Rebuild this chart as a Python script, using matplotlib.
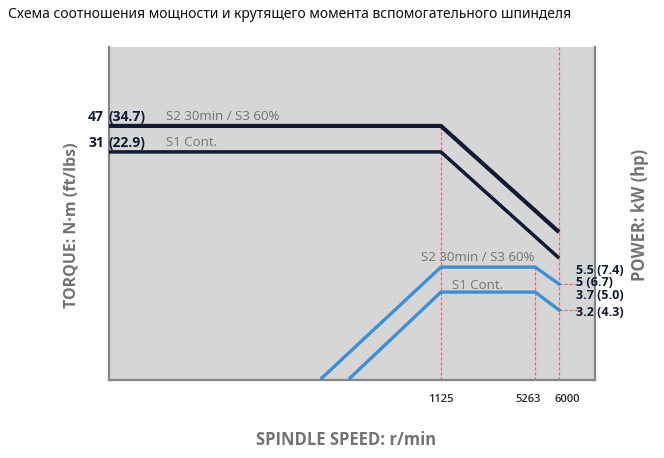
import matplotlib.pyplot as plt
import numpy as np

# schematic chart: x / y are in relative units (0..100) of the plot box
speed_marks = [1125, 5263, 6000]
speed_pos = [68.3, 87.7, 92.6]

torque_x = [0, 68.3, 92.6]
torque_s2 = [76.3, 76.3, 44.4]
torque_s1 = [68.5, 68.5, 36.6]

power_s2_x = [43.8, 68.3, 87.7, 92.6]
power_s2 = [0.6, 33.9, 33.9, 28.8]
power_s1_x = [49.6, 68.3, 87.7, 92.6]
power_s1 = [0.6, 26.4, 26.4, 21.0]

torque_labels = [("47", "(34.7)", "S2 30min / S3 60%", 79.0),
                 ("31", "(22.9)", "S1 Cont.", 71.2)]
power_labels = [("S2 30min / S3 60%", 36.9), ("S1 Cont.", 28.5)]
power_values = [("5.5 (7.4)", 33.0), ("5 (6.7)", 29.4),
                ("3.7 (5.0)", 25.5), ("3.2 (4.3)", 20.4)]

plt.rcParams['font.family'] = ['Open Sans', 'DejaVu Sans']

navy = "#101a35"
blue = "#3d8fd4"
red = "#e5677a"
gray = "#737373"

fig = plt.figure(figsize=(6.64, 4.58), dpi=100)
ax = fig.add_axes([109 / 664, 78 / 458, 486 / 664, 333 / 458])
ax.set_facecolor("#d6d6d6")
ax.set_xlim(0, 100)
ax.set_ylim(0, 100)

for s in ["left", "right", "bottom"]:
    ax.spines[s].set_color("#858585")
    ax.spines[s].set_linewidth(1.6)
ax.spines["top"].set_visible(False)

# red guide lines
dash = dict(color=red, lw=0.9, ls=(0, (2.5, 1.5)), zorder=1)
ax.plot([speed_pos[0]] * 2, [0, torque_s2[1]], **dash)
ax.plot([speed_pos[1]] * 2, [0, power_s2[2]], **dash)
ax.plot([speed_pos[2]] * 2, [0, 100], **dash)
ax.plot([speed_pos[2], 97.5], [power_s2[-1]] * 2, clip_on=False, **dash)
ax.plot([speed_pos[2], 97.5], [power_s1[-1]] * 2, clip_on=False, **dash)

ax.plot(torque_x, torque_s2, color=navy, lw=3, solid_capstyle="butt", zorder=3)
ax.plot(torque_x, torque_s1, color=navy, lw=2.5, solid_capstyle="butt", zorder=3)
ax.plot(power_s2_x, power_s2, color=blue, lw=2.4, zorder=3)
ax.plot(power_s1_x, power_s1, color=blue, lw=2.4, zorder=3)

for nm, lb, name, y in torque_labels:
    ax.text(-1.0, y, nm, ha="right", va="center", color=navy,
            fontsize=10, fontweight="bold", clip_on=False)
    ax.text(0.0, y, lb, ha="left", va="center", color=navy,
            fontsize=10, fontweight="bold", clip_on=False)
    ax.text(11.7, y, name, ha="left", va="center", color=gray, fontsize=9.5)

for name, y in power_labels:
    ax.text(75.8, y, name, ha="center", va="center", color=gray, fontsize=9.5)

for txt, y in power_values:
    ax.text(96.1, y, txt, ha="left", va="center", color=navy,
            fontsize=9, fontweight="bold", clip_on=False)

ax.set_yticks([])
ax.set_xticks(speed_pos)
ax.set_xticklabels([])
ax.tick_params(axis="x", length=0)
label_shift = [0, -5, 6]
for p, v, dx in zip(speed_pos, speed_marks, label_shift):
    ax.annotate(str(v), (p, 0), xytext=(dx, -10), textcoords="offset points",
                ha="center", va="top", fontsize=8, color="#2a2a2a",
                fontweight="semibold", annotation_clip=False)

fig.text(72 / 664, 1 - 225 / 458, "TORQUE: N·m (ft/lbs)", rotation=90,
         ha="center", va="center", color=gray, fontsize=11.5, fontweight="bold")
fig.text(640 / 664, 1 - 215 / 458, "POWER: kW (hp)", rotation=90,
         ha="center", va="center", color=gray, fontsize=12, fontweight="bold")
fig.text(346 / 664, 1 - 440 / 458, "SPINDLE SPEED: r/min",
         ha="center", va="center", color=gray, fontsize=12, fontweight="bold")
fig.text(8 / 664, 1 - 15 / 458,
         "Схема соотношения мощности и крутящего момента вспомогательного шпинделя",
         ha="left", va="center", color="#111111", fontsize=10,
         family=["Noto Sans", "DejaVu Sans"])

fig.savefig("out.png", dpi=100)
